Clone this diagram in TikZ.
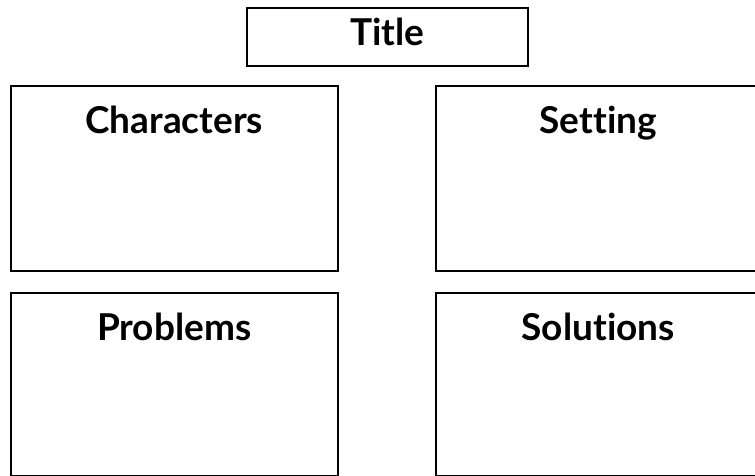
\documentclass[tikz,border=0pt]{standalone}
\usepackage{fontspec}
\setmainfont[Ligatures=NoCommon]{Lato}
\begin{document}
\begin{tikzpicture}[x=1pt,y=-1pt,
  box/.style={draw=black,line width=1.5pt,rectangle,inner sep=0pt,anchor=north west},
  head/.style={font=\fontsize{37}{42}\selectfont\bfseries,inner sep=0pt,anchor=base}]
\useasboundingbox[fill=white] (0,0) rectangle (755,475);
\node[box,minimum width=281pt,minimum height=58pt] (title) at (246,7) {};
\node[box,minimum width=327pt,minimum height=185pt] (chars) at (10,85) {};
\node[box,minimum width=325pt,minimum height=185pt] (setting) at (435,85) {};
\node[box,minimum width=327pt,minimum height=183pt] (probs) at (10,292) {};
\node[box,minimum width=325pt,minimum height=183pt] (sols) at (435,292) {};
\node[head] (titletext) at ([yshift=-38pt]title.north) {Title};
\node[head] (charstext) at ([yshift=-48pt]chars.north) {Characters};
\node[head] (settingtext) at ([yshift=-48pt]setting.north) {Setting};
\node[head] (probstext) at ([yshift=-48pt]probs.north) {Problems};
\node[head] (solstext) at ([yshift=-48pt]sols.north) {Solutions};
\end{tikzpicture}
\end{document}
